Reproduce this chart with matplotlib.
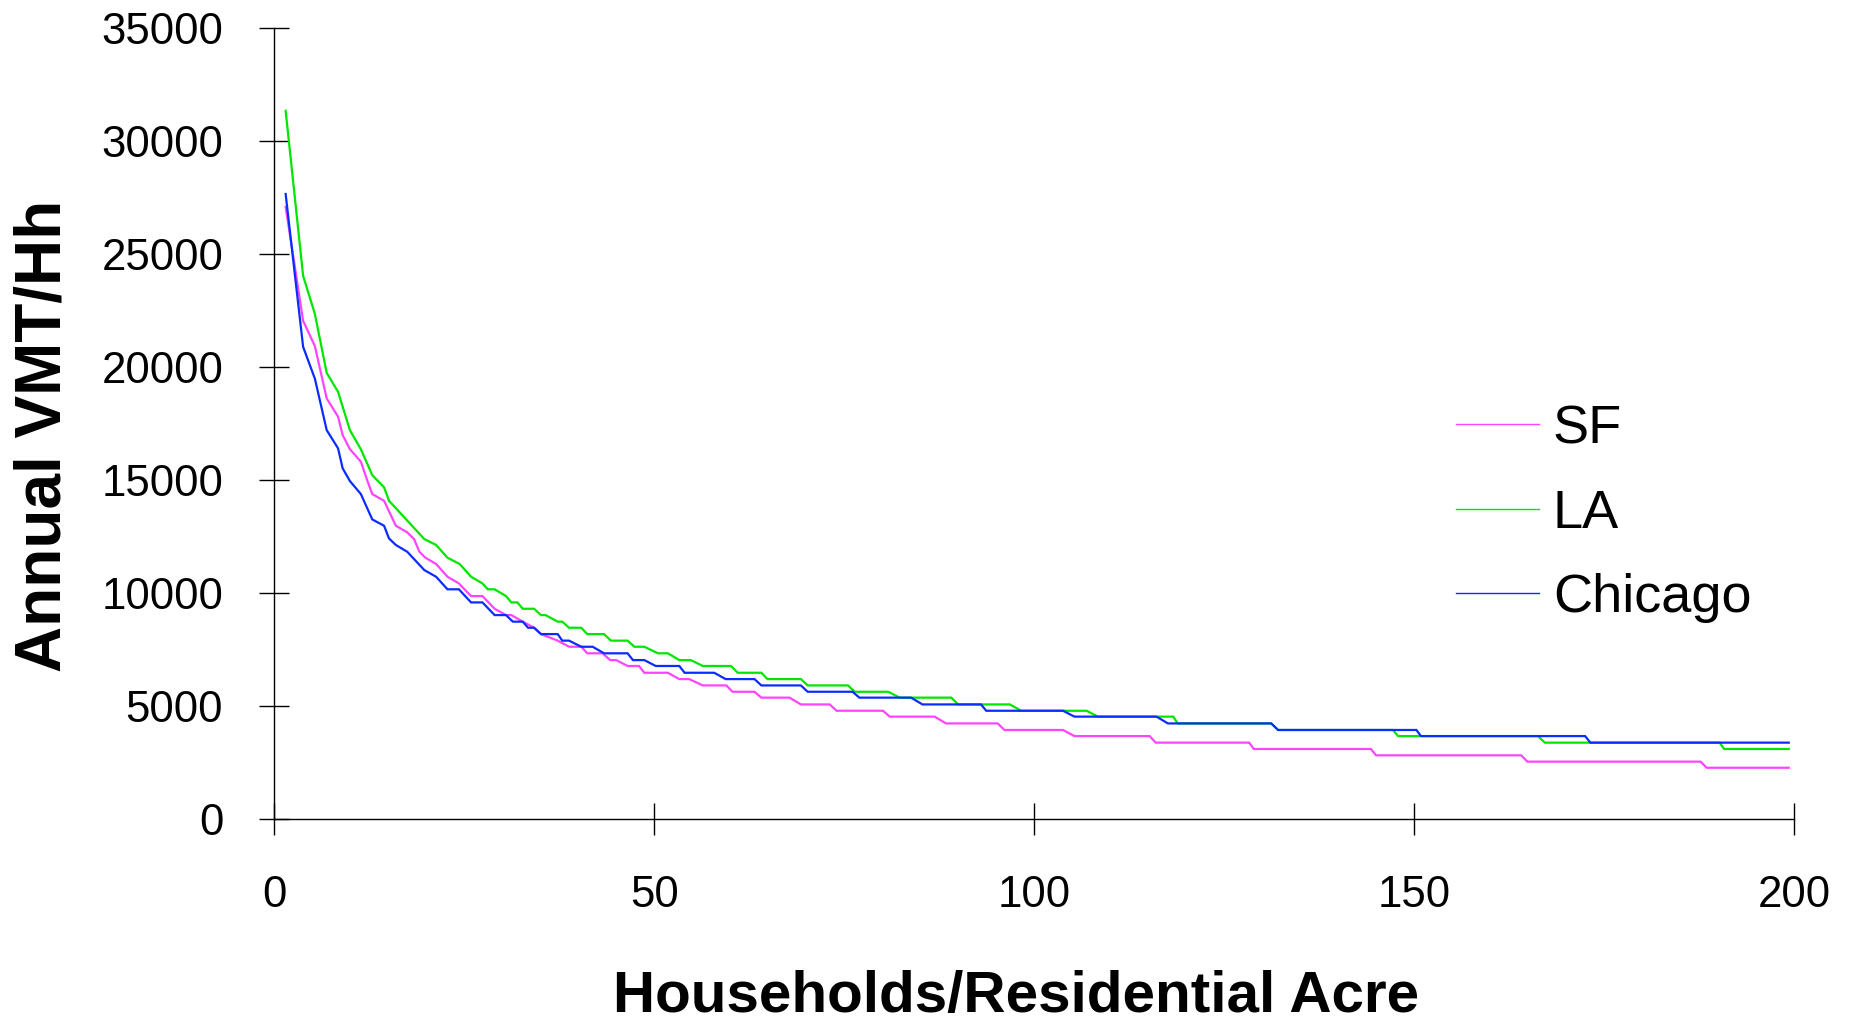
import matplotlib
matplotlib.use("Agg")
import matplotlib.pyplot as plt
from matplotlib.lines import Line2D

# vertices (density, annual VMT per household)
sf_x = [1.5, 3.8, 5.35, 6.9, 8.4, 9.0, 9.95, 11.4, 12.3, 12.9,
        14.45, 16, 17.5, 18.4, 19.1, 19.9, 21.3, 22.8, 24.3, 25.9,
        27.4, 29, 30.5, 31.2, 32.7, 34.2, 35.1, 37.3, 38.8, 40.4,
        41.2, 43.2, 44.2, 45, 46.5, 48, 48.7, 51.8, 53.3, 54.6,
        56.4, 59.5, 60.3, 63.2, 64.1, 67.8, 69.3, 73.1, 74, 80.1,
        81, 86.9, 88.4, 95.2, 96.1, 103.8, 105.3, 115.2, 116, 128.3,
        128.9, 144.3, 145, 164.1, 164.9, 187.7, 188.5, 199.3]
sf_y = [27080, 22040, 20920, 18610, 17800, 16990, 16370, 15810, 14925, 14380,
        14085, 12980, 12690, 12390, 11830, 11565, 11290, 10725, 10430, 9870,
        9870, 9310, 9030, 9030, 8740, 8470, 8190, 7900, 7630, 7630,
        7340, 7340, 7040, 7040, 6780, 6780, 6480, 6480, 6200, 6200,
        5920, 5920, 5640, 5640, 5380, 5380, 5080, 5080, 4800, 4800,
        4540, 4540, 4240, 4240, 3950, 3950, 3680, 3680, 3390, 3390,
        3110, 3110, 2830, 2830, 2550, 2550, 2280, 2280]

la_x = [1.5, 3.8, 5.35, 6.9, 8.4, 9.95, 11.4, 12.9, 14.45, 15.1,
        19.75, 21.3, 22.8, 24.4, 25.9, 27.4, 28.1, 29, 30.5, 31.2,
        32, 32.7, 34.2, 35.1, 35.7, 37.3, 37.9, 38.8, 40.4, 41.2,
        43.4, 44.3, 46.5, 47.4, 48.7, 50.5, 51.8, 53.3, 54.8, 56.4,
        60.1, 61, 64.1, 64.9, 69.3, 70.2, 75.5, 76.4, 80.8, 82.3,
        89.1, 90, 96.8, 98.3, 106.9, 108.4, 118.3, 118.9, 131.2, 132.1,
        147.2, 147.9, 166.3, 167.2, 190.2, 190.8, 199.3]
la_y = [31330, 24030, 22340, 19740, 18900, 17210, 16360, 15220, 14680, 14085,
        12390, 12130, 11565, 11290, 10725, 10430, 10170, 10170, 9870, 9590,
        9590, 9310, 9310, 9030, 9030, 8740, 8740, 8470, 8470, 8190,
        8190, 7900, 7900, 7630, 7630, 7340, 7340, 7040, 7040, 6780,
        6780, 6480, 6480, 6200, 6200, 5920, 5920, 5640, 5640, 5380,
        5380, 5080, 5080, 4800, 4800, 4540, 4540, 4240, 4240, 3950,
        3950, 3680, 3680, 3390, 3390, 3110, 3110]

chi_x = [1.5, 3.8, 5.35, 6.9, 8.4, 9.0, 9.95, 11.4, 12.9, 14.45,
         15.1, 16, 17.5, 19.75, 21.3, 22.8, 24.3, 25.9, 27.4, 29,
         30.5, 31.4, 32.7, 33.4, 34.2, 35.1, 37.3, 37.9, 38.8, 40.4,
         41.9, 43.4, 46.5, 47.2, 48.7, 50.2, 53.3, 54, 57.9, 59.4,
         63.2, 64.1, 69.3, 70.2, 76.1, 77, 83.8, 85.3, 93, 93.7,
         103.8, 105.3, 116.1, 117.6, 131.2, 132.1, 150.3, 150.9, 172.5, 173.2,
         199.3]
chi_y = [27650, 20890, 19480, 17210, 16400, 15520, 14960, 14380, 13260, 12980,
         12420, 12130, 11830, 11020, 10725, 10170, 10170, 9590, 9590, 9030,
         9030, 8740, 8740, 8470, 8470, 8190, 8190, 7900, 7900, 7630,
         7630, 7340, 7340, 7040, 7040, 6780, 6780, 6480, 6480, 6200,
         6200, 5920, 5920, 5640, 5640, 5380, 5380, 5080, 5080, 4800,
         4800, 4540, 4540, 4240, 4240, 3950, 3950, 3680, 3680, 3390,
         3390]

names = ["SF", "LA", "Chicago"]
colors = ["#ff44ff", "#00e600", "#0a2cff"]

plt.rcParams["font.family"] = ["Liberation Sans", "DejaVu Sans"]

fig = plt.figure(figsize=(18.53, 10.23), dpi=100)
ax = fig.add_axes([0.1480, 0.1991, 0.8202, 0.7738])

series = [(sf_x, sf_y), (la_x, la_y), (chi_x, chi_y)]
for (xs, ys), c in zip(series, colors):
    ax.plot(xs, ys, color=c, lw=1.6, solid_joinstyle="miter")

ax.set_xlim(0, 200)
ax.set_ylim(0, 35000)
ax.set_xticks(range(0, 201, 50))
ax.set_yticks(range(0, 35001, 5000))
for s in ["top", "right"]:
    ax.spines[s].set_visible(False)
for s in ["left", "bottom"]:
    ax.spines[s].set_linewidth(1.0)
ax.tick_params(axis="both", direction="inout", labelsize=31.5, width=1.0)
ax.tick_params(axis="x", length=23.5, pad=28)
ax.tick_params(axis="y", length=21.5, pad=26)

ax.set_xlabel("Households/Residential Acre", fontsize=42, fontweight="bold", va="center")
ax.xaxis.set_label_coords(0.488, -0.224)
ax.set_ylabel("Annual VMT/Hh", fontsize=46, fontweight="bold", va="center")
ax.yaxis.set_label_coords(-0.1515, 0.484)

handles = [Line2D([], [], color=c, lw=1.0) for c in colors]
ax.legend(handles, names, loc="upper left", bbox_to_anchor=(0.786, 0.605),
          bbox_transform=fig.transFigure, frameon=False, fontsize=39,
          handlelength=1.53, handletextpad=0.25, labelspacing=0.64,
          borderpad=0, borderaxespad=0)

fig.savefig("out.png", dpi=100)
